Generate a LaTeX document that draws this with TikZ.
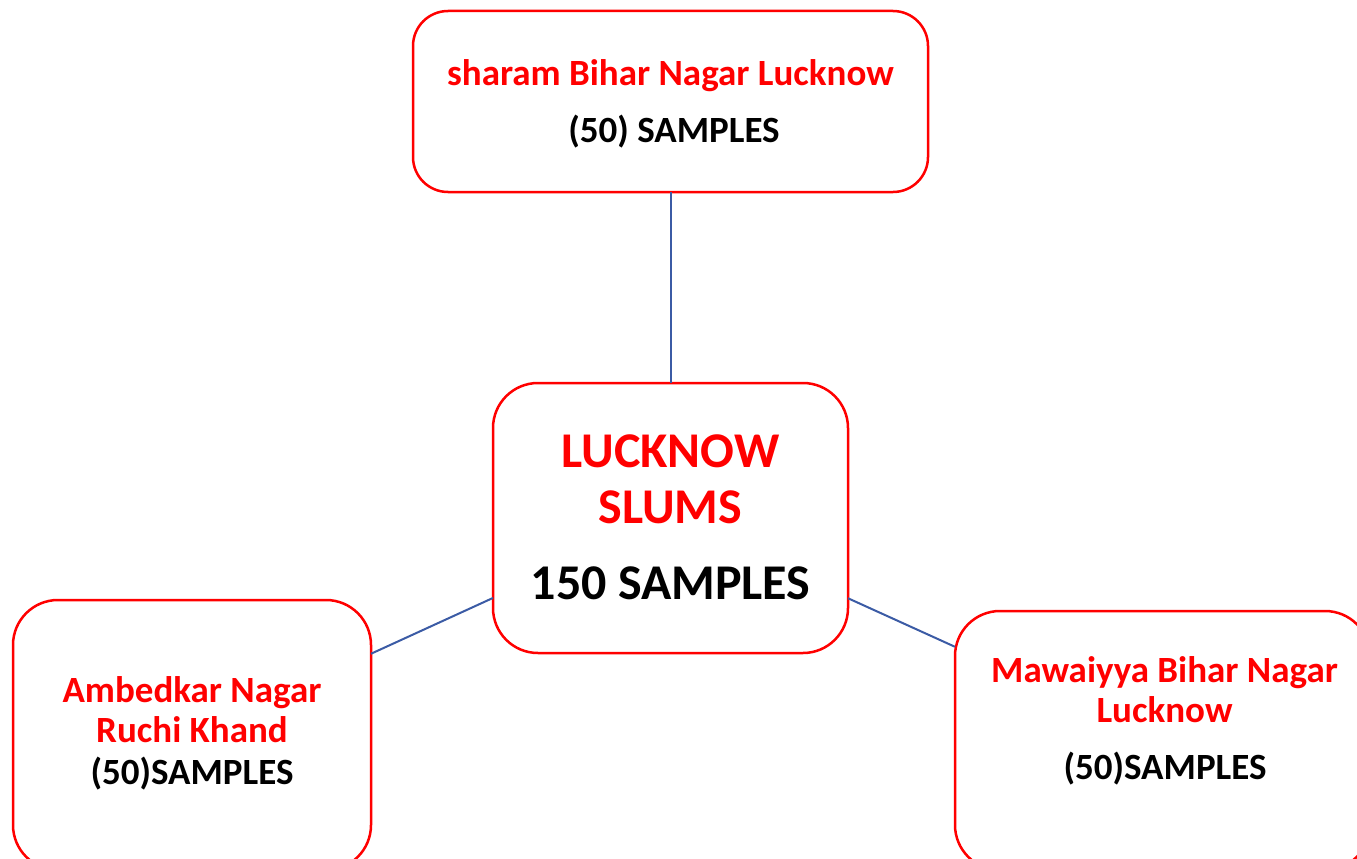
\documentclass[tikz,border=0pt]{standalone}
\usepackage{fontspec}
\setmainfont{Carlito}
\definecolor{boxred}{RGB}{255,0,0}
\definecolor{linkblue}{RGB}{59,91,165}
\begin{document}
\begin{tikzpicture}[x=1pt,y=-1pt,
  box/.style={draw=boxred,line width=2.5pt,fill=white,rectangle,inner sep=0pt,outer sep=0pt},
  link/.style={draw=linkblue,line width=2pt},
  small/.style={inner sep=0pt,anchor=base,font=\fontsize{37}{42}\selectfont\bfseries},
  big/.style={inner sep=0pt,anchor=base,font=\fontsize{50}{60}\selectfont\bfseries},
  redtxt/.style={text=boxred},
  blacktxt/.style={text=black}]
\useasboundingbox (0,0) rectangle (1357,859);
\node[box,rounded corners=35pt,minimum width=515pt,minimum height=181pt] (top) at (670.5,101.5) {};
\node[box,rounded corners=45pt,minimum width=355pt,minimum height=270pt] (center) at (670.5,518) {};
\node[box,rounded corners=45pt,minimum width=358pt,minimum height=270pt] (left) at (192,735) {};
\node[box,rounded corners=45pt,minimum width=415pt,minimum height=259pt] (right) at (1162.5,740.5) {};
\draw[link] (top) -- (center);
\draw[link] (left) -- (center);
\draw[link] (center) -- (right);
\node[small,redtxt] (t1) at (670.5,85) {sharam Bihar Nagar Lucknow};
\node[small,blacktxt] (t2) at (674,142) {(50) SAMPLES};
\node[big,redtxt] (c1) at (670.5,467) {LUCKNOW};
\node[big,redtxt] (c2) at (670.5,523) {SLUMS};
\node[big,blacktxt] (c3) at (670.5,599) {150 SAMPLES};
\node[small,redtxt] (l1) at (192,702) {Ambedkar Nagar};
\node[small,redtxt] (l2) at (192,742) {Ruchi Khand};
\node[small,blacktxt] (l3) at (192,784) {(50)SAMPLES};
\node[small,redtxt] (r1) at (1164.5,682) {Mawaiyya Bihar Nagar};
\node[small,redtxt] (r2) at (1164.5,722) {Lucknow};
\node[small,blacktxt] (r3) at (1165,779) {(50)SAMPLES};
\end{tikzpicture}
\end{document}
